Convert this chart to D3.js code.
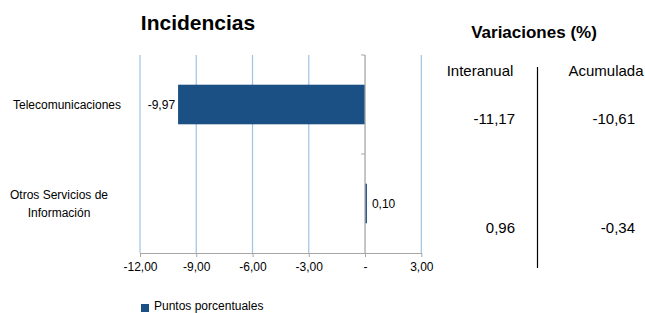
<!DOCTYPE html>
<html><head><meta charset="utf-8">
<script src="https://cdn.jsdelivr.net/npm/d3@7"></script>
<style>
body{margin:0;background:#fff;}
text{font-family:"Liberation Sans Narrow","Arial Narrow","Liberation Sans",Arial,sans-serif;}
</style></head>
<body><svg id="c" width="645" height="313"></svg>
<script>
const categories = ["Telecomunicaciones", "Otros Servicios de Información"];
const incidencias = [-9.97, 0.10];
const interanual = [-11.17, 0.96];
const acumulada = [-10.61, -0.34];
const xTicks = [-12, -9, -6, -3, 0, 3];
const legendLabel = "Puntos porcentuales";

const locale = d3.formatLocale({decimal: ",", thousands: ".", grouping: [3], currency: ["", "€"], minus: "-"});
const f2 = locale.format(".2f");
const fmt = v => v === 0 ? "-" : f2(v);
const svg = d3.select("#c");
const font = '"Liberation Sans Narrow","Arial Narrow","Liberation Sans",Arial,sans-serif';

const x = d3.scaleLinear().domain([-12, 3]).range([140, 421.3]);
const y = d3.scaleBand().domain(categories).range([55, 253]).paddingInner(0.6).paddingOuter(0.3);
const yb = d3.scaleBand().domain(categories).range([55, 253]);

// gridlines
svg.append("g").selectAll("line").data(xTicks.filter(d => d !== 0)).join("line")
  .attr("x1", d => x(d)).attr("x2", d => x(d)).attr("y1", 55).attr("y2", 253)
  .attr("stroke", "#9DC3E6").attr("stroke-width", 1.2);

// bottom axis
const xAxis = d3.axisBottom(x).tickValues(xTicks).tickFormat(fmt).tickSize(4).tickSizeOuter(0);
const gx = svg.append("g").attr("transform", "translate(0,253)").call(xAxis);
gx.select(".domain").attr("stroke", "#A6A6A6");
gx.selectAll(".tick line").attr("stroke", "#A6A6A6");
gx.selectAll(".tick text").attr("fill", "#000").attr("font-size", 12).attr("font-family", font).attr("dy", "0.95em");

// bars
svg.append("g").selectAll("rect").data(categories).join("rect")
  .attr("x", (d, i) => x(Math.min(0, incidencias[i])))
  .attr("width", (d, i) => Math.abs(x(incidencias[i]) - x(0)))
  .attr("y", d => y(d)).attr("height", y.bandwidth())
  .attr("fill", "#1A5083");

// zero axis
svg.append("line").attr("x1", x(0)).attr("x2", x(0)).attr("y1", 55).attr("y2", 253)
  .attr("stroke", "#A6A6A6").attr("stroke-width", 1.3);
svg.append("g").selectAll("line").data([55, yb(categories[1])]).join("line")
  .attr("x1", x(0) - 4).attr("x2", x(0)).attr("y1", d => d).attr("y2", d => d)
  .attr("stroke", "#A6A6A6");

// bar labels
svg.append("g").selectAll("text").data(categories).join("text")
  .attr("x", (d, i) => incidencias[i] < 0 ? x(incidencias[i]) - 3 : x(incidencias[i]) + 5)
  .attr("y", d => y(d) + y.bandwidth() / 2)
  .attr("dy", "0.35em")
  .attr("text-anchor", (d, i) => incidencias[i] < 0 ? "end" : "start")
  .attr("font-size", 12).attr("font-family", font)
  .text((d, i) => fmt(incidencias[i]));

// category labels
const catLines = [["Telecomunicaciones"], ["Otros Servicios de", "Información"]];
svg.append("g").selectAll("text").data(categories).join("text")
  .attr("text-anchor", "middle").attr("font-size", 12).attr("font-family", font)
  .each(function(d, i) {
    const lines = catLines[i];
    const cx = i === 0 ? 67 : 59;
    const cy = yb(d) + yb.bandwidth() / 2 - (lines.length - 1) * 9;
    d3.select(this).selectAll("tspan").data(lines).join("tspan")
      .attr("x", cx).attr("y", (l, j) => cy + j * 18).attr("dy", "0.35em").text(l => l);
  });

// title
svg.append("text").attr("x", 198).attr("y", 30).attr("text-anchor", "middle")
  .attr("font-size", 21).attr("font-weight", "bold").attr("font-family", font).text("Incidencias");

// legend
svg.append("rect").attr("x", 141).attr("y", 304).attr("width", 8).attr("height", 8).attr("fill", "#1A5083");
svg.append("text").attr("x", 154).attr("y", 310).attr("font-size", 12).attr("font-family", font).text(legendLabel);

// right panel
svg.append("text").attr("x", 534).attr("y", 38).attr("text-anchor", "middle")
  .attr("font-size", 17).attr("font-weight", "bold").attr("font-family", font).text("Variaciones (%)");
svg.append("text").attr("x", 480).attr("y", 76).attr("text-anchor", "middle")
  .attr("font-size", 15).attr("font-family", font).text("Interanual");
svg.append("text").attr("x", 606).attr("y", 76).attr("text-anchor", "middle")
  .attr("font-size", 15).attr("font-family", font).text("Acumulada");
svg.append("line").attr("x1", 537.5).attr("x2", 537.5).attr("y1", 67).attr("y2", 268)
  .attr("stroke", "#000").attr("stroke-width", 1.2);
const rowY = [119, 228];
svg.append("g").selectAll("text").data(interanual).join("text")
  .attr("x", 515).attr("y", (d, i) => rowY[i]).attr("dy", "0.35em").attr("text-anchor", "end")
  .attr("font-size", 15).attr("font-family", font).text(d => fmt(d));
svg.append("g").selectAll("text").data(acumulada).join("text")
  .attr("x", 635).attr("y", (d, i) => rowY[i]).attr("dy", "0.35em").attr("text-anchor", "end")
  .attr("font-size", 15).attr("font-family", font).text(d => fmt(d));
</script></body></html>
